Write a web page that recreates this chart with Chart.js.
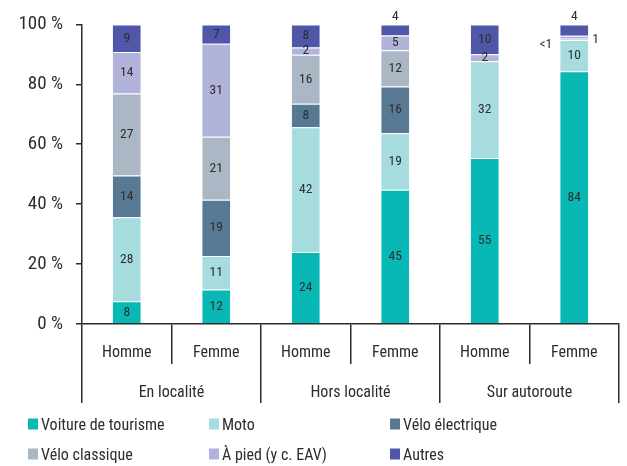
<!DOCTYPE html>
<html><head><meta charset="utf-8">
<script src="https://cdn.jsdelivr.net/npm/chart.js@4"></script>
<style>
html,body{margin:0;padding:0;background:#fff;}
#wrap{position:relative;width:627px;height:466px;overflow:hidden;}
#c{position:absolute;left:0;top:0;}
#legend{position:absolute;left:0;top:0;width:627px;height:466px;pointer-events:none;font-family:'Liberation Sans Narrow','Roboto Condensed','Liberation Sans',sans-serif;font-size:16px;color:#2d2d2d;}
.item{position:absolute;display:flex;align-items:center;white-space:nowrap;transform:translateY(-50%);}
.sw{width:10px;height:11px;margin-right:3px;flex:none;}
</style>
</head><body>
<div id="wrap"><canvas id="c" width="627" height="404"></canvas><div id="legend"></div></div>
<script>
const categories = ['Homme','Femme','Homme','Femme','Homme','Femme'];
const groups = ['En localité','Hors localité','Sur autoroute'];
const seriesNames = ['Voiture de tourisme','Moto','Vélo électrique','Vélo classique','À pied (y c. EAV)','Autres'];
const yTickValues = [0,20,40,60,80,100];
const voiture       = [7.6, 11.5, 24.0, 44.8, 55.4, 84.4];
const moto          = [28.0, 11.2, 41.7, 18.9, 32.3, 10.4];
const veloElectrique= [14.0, 18.8, 7.8, 15.6, 0, 0];
const veloClassique = [27.3, 21.0, 16.4, 12.1, 0, 0.4];
const aPied         = [13.9, 31.0, 2.4, 4.9, 2.3, 1.0];
const autres        = [9.2, 6.5, 7.7, 3.7, 10.0, 3.8];

const colors = ['#07b8b5','#a6dcde','#587994','#abb7c4','#b1b3da','#5057a9'];
const FONT = "'Liberation Sans Narrow','Roboto Condensed','Liberation Sans',sans-serif";
const TXT = '#2d2d2d';
const LINE = '#2b2b2b';

const seriesData = [voiture, moto, veloElectrique, veloClassique, aPied, autres];
const datasets = seriesData.map((d,i)=>({
  label: seriesNames[i], data: d, backgroundColor: colors[i],
  borderColor:'rgba(255,255,255,0.55)', borderWidth:{top:1,bottom:0,left:0,right:0}, borderSkipped:false,
  categoryPercentage:1, barPercentage:0.313
}));

const valueLabels = {
  id:'valueLabels',
  afterDatasetsDraw(chart){
    const ctx = chart.ctx; ctx.save();
    ctx.font = '13.5px ' + FONT; ctx.fillStyle = TXT; ctx.textBaseline = 'middle';
    const last = chart.data.datasets.length - 1;
    chart.data.datasets.forEach((ds,di)=>{
      const meta = chart.getDatasetMeta(di);
      meta.data.forEach((el,i)=>{
        const v = ds.data[i]; if(!v) return;
        const p = el.getProps(['x','y','base','width'], true);
        const mid = (p.y + p.base)/2;
        let text = String(Math.round(v)), tx = p.x, ty = mid, align = 'center';
        if (v < 1){ text = '<1'; align = 'right'; tx = p.x - p.width/2 - 8; ty = mid + 5; }
        else if (v < 2){ align = 'left'; tx = p.x + p.width/2 + 4; ty = mid + 2; }
        else if (di === last && v < 5){ ty = p.y - 8; }
        ctx.textAlign = align; ctx.fillText(text, tx, ty);
      });
    });
    ctx.restore();
  }
};

const xFont = {family: FONT, size: 16};
const yFont = {family: FONT, size: 19};
new Chart(document.getElementById('c'), {
  type:'bar',
  data:{labels:categories, datasets},
  options:{
    responsive:false, animation:false,
    layout:{padding:{top:21,right:8,bottom:0,left:0}},
    plugins:{legend:{display:false}, tooltip:{enabled:false}},
    scales:{
      x:{stacked:true, offset:true, weight:0,
         grid:{offset:true, drawOnChartArea:false, tickLength:40, color:LINE, lineWidth:1.5},
         border:{display:true, color:LINE, width:1.5},
         ticks:{padding:-21, font:xFont, color:TXT, maxRotation:0, autoSkip:false},
         afterFit(s){ s.height = 40; }},
      x2:{type:'category', labels:groups, offset:true, position:'bottom', weight:1,
         grid:{offset:true, drawOnChartArea:false, tickLength:39, color:LINE, lineWidth:1.5},
         border:{display:false},
         ticks:{padding:-20, font:xFont, color:TXT, maxRotation:0, autoSkip:false},
         afterFit(s){ s.height = 40; }},
      y:{stacked:true, min:0, max:100,
         afterBuildTicks(s){ s.ticks = yTickValues.map(v=>({value:v})); },
         ticks:{padding:13, font:yFont, color:TXT, callback:v=>v+' %'},
         grid:{drawOnChartArea:false, tickLength:6, color:LINE, lineWidth:1.5},
         border:{display:true, color:LINE, width:1.5},
         afterFit(s){ s.width = 82; }}
    }
  },
  plugins:[valueLabels]
});

// HTML legend built from the datasets
const legend = document.getElementById('legend');
const colX = [28, 209, 390], rowY = [424, 454];
datasets.forEach((ds,i)=>{
  const it = document.createElement('div'); it.className='item';
  it.style.left = colX[i%3]+'px'; it.style.top = rowY[Math.floor(i/3)]+'px';
  const sw = document.createElement('span'); sw.className='sw'; sw.style.background = ds.backgroundColor;
  const t = document.createElement('span'); t.textContent = ds.label;
  it.appendChild(sw); it.appendChild(t); legend.appendChild(it);
});
</script>
</body></html>
